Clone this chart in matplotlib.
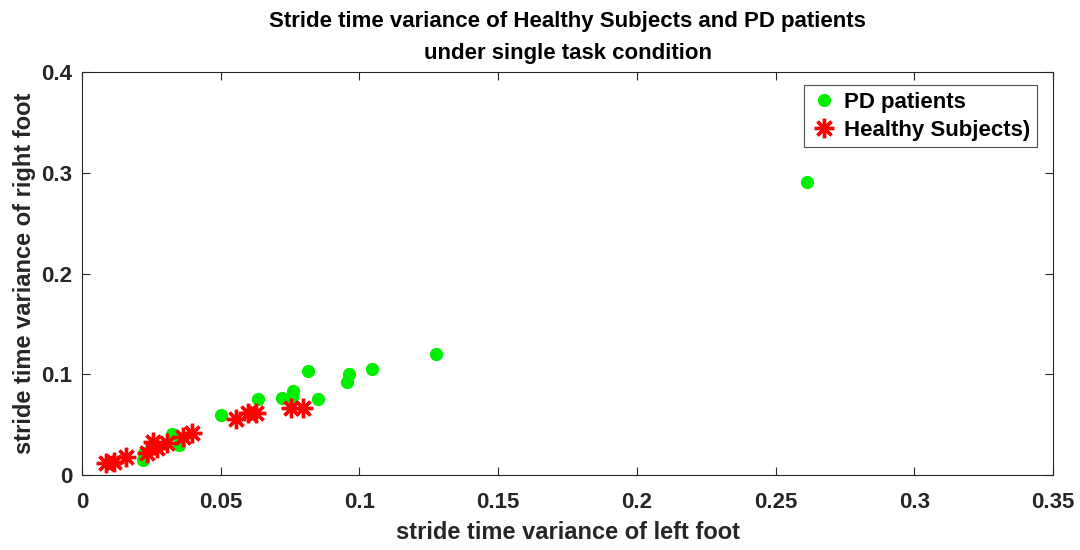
import matplotlib.pyplot as plt

# stride time variance (left foot, right foot)
pd_left = [0.2612, 0.1275, 0.1044, 0.0964, 0.0954, 0.0816, 0.0852, 0.0762, 0.0757,
           0.0720, 0.0633, 0.0501, 0.0325, 0.0350, 0.0224, 0.0221]
pd_right = [0.2908, 0.1200, 0.1055, 0.1000, 0.0923, 0.1035, 0.0754, 0.0834, 0.0777,
            0.0761, 0.0754, 0.0592, 0.0407, 0.0298, 0.0215, 0.0149]

hs_left = [0.0087, 0.0117, 0.0159, 0.0233, 0.0257, 0.0269, 0.0305, 0.0365, 0.0395,
           0.0555, 0.0597, 0.0627, 0.0753, 0.0795]
hs_right = [0.0122, 0.0132, 0.0182, 0.0215, 0.0330, 0.0265, 0.0320, 0.0375, 0.0414,
            0.0553, 0.0612, 0.0612, 0.0662, 0.0662]

plt.rcParams['font.family'] = ['Liberation Sans', 'DejaVu Sans']
plt.rcParams['font.weight'] = 'bold'

fig = plt.figure(figsize=(10.8, 5.5), dpi=100)
ax = fig.add_axes([82 / 1080, 75 / 550, 971 / 1080, 403 / 550])

ax.plot(pd_left, pd_right, linestyle='none', marker='o', markersize=8.5,
        color='#00ee00', label='PD patients')
ax.plot(hs_left, hs_right, linestyle='none', marker=(8, 2, 0), markersize=14,
        markeredgewidth=2.4, color='#ff0000', label='Healthy Subjects)')

ax.set_xlim(0, 0.35)
ax.set_ylim(0, 0.4)
ax.set_xticks([0, 0.05, 0.1, 0.15, 0.2, 0.25, 0.3, 0.35])
ax.set_xticklabels(['0', '0.05', '0.1', '0.15', '0.2', '0.25', '0.3', '0.35'])
ax.set_yticks([0, 0.1, 0.2, 0.3, 0.4])
ax.set_yticklabels(['0', '0.1', '0.2', '0.3', '0.4'])

for s in ax.spines.values():
    s.set_color('#262626')
    s.set_linewidth(0.8)
ax.tick_params(direction='in', top=True, right=True, length=6, width=0.8,
               colors='#262626', labelsize=16)
ax.tick_params(axis='x', pad=12)
ax.tick_params(axis='y', pad=7)
for lab in ax.get_xticklabels() + ax.get_yticklabels():
    lab.set_fontweight('bold')

ax.set_xlabel('stride time variance of left foot', fontsize=17, fontweight='bold',
              color='#262626', labelpad=6)
ax.set_ylabel('stride time variance of right foot', fontsize=17, fontweight='bold',
              color='#262626', labelpad=4)
ax.set_title('Stride time variance of Healthy Subjects and PD patients\nunder single task condition',
             fontsize=16, fontweight='bold', color='black', pad=9, linespacing=1.75)

leg = ax.legend(loc='upper right', bbox_to_anchor=(0.9835, 0.967), borderaxespad=0,
                fontsize=16, frameon=True, fancybox=False, edgecolor='#262626',
                handletextpad=0.3, borderpad=0.3, labelspacing=0.3, handlelength=1.2)
leg.get_frame().set_linewidth(0.8)
for t in leg.get_texts():
    t.set_fontweight('bold')

fig.savefig('out.png', dpi=100)
